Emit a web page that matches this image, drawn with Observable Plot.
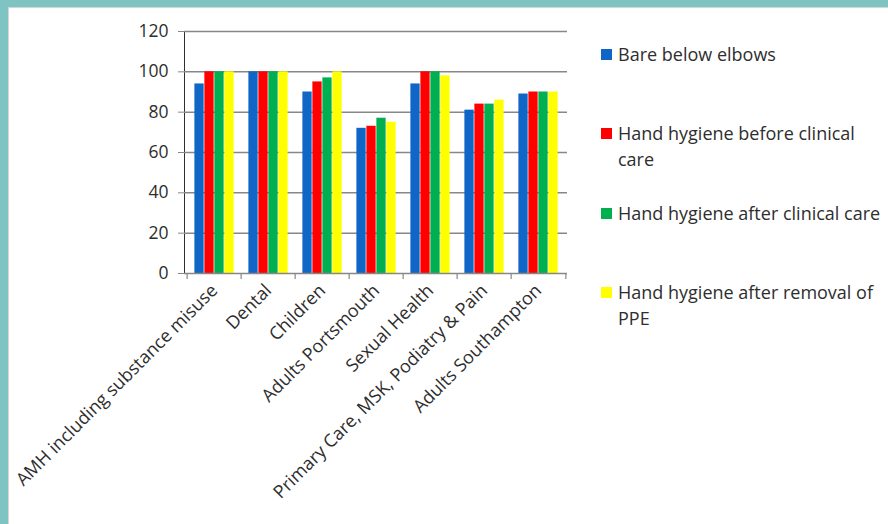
<!DOCTYPE html>
<html>
<head>
<meta charset="utf-8">
<script src="https://cdn.jsdelivr.net/npm/d3@7"></script>
<script src="https://cdn.jsdelivr.net/npm/@observablehq/plot@0.6"></script>
<style>
  html, body { margin: 0; padding: 0; }
  body {
    width: 888px; height: 524px; position: relative; overflow: hidden;
    background: #7fc4c2;
    font-family: "Open Sans", sans-serif; color: #2e2e2e;
  }
  #panel {
    position: absolute; left: 8px; top: 7px; right: 0; bottom: 0;
    background: #fff; box-shadow: inset 1px 1px 1px rgba(0,0,0,0.18);
  }
  #chart { position: absolute; left: 0; top: 0; }
  #legend { position: absolute; left: 0; top: 0; }
  .entry {
    position: absolute; left: 601px; width: 287px;
    display: flex; align-items: flex-start;
    font-size: 18px; line-height: 26px;
  }
  .swatch { width: 11px; height: 11px; flex: none; margin-top: 7.5px; margin-right: 6px; }
  .label { width: 268px; }
</style>
</head>
<body>
<div id="panel"></div>
<div id="chart"></div>
<div id="legend"></div>
<script>
// Audit scores (%) by service line
const categories = [
  "AMH including substance misuse",
  "Dental",
  "Children",
  "Adults Portsmouth",
  "Sexual Health",
  "Primary Care, MSK, Podiatry & Pain",
  "Adults Southampton"
];
const seriesNames = [
  "Bare below elbows",
  "Hand hygiene before clinical care",
  "Hand hygiene after clinical care",
  "Hand hygiene after removal of PPE"
];
const seriesColors = ["#0f66c6", "#ff0000", "#00b050", "#ffff00"];

const bareBelowElbows     = [94, 100, 90, 72, 94, 81, 89];
const handHygieneBefore   = [100, 100, 95, 73, 100, 84, 90];
const handHygieneAfter    = [100, 100, 97, 77, 100, 84, 90];
const handHygieneAfterPPE = [100, 100, 100, 75, 98, 86, 90];

const yTicks = [0, 20, 40, 60, 80, 100, 120];

const seriesValues = [bareBelowElbows, handHygieneBefore, handHygieneAfter, handHygieneAfterPPE];
const rows = seriesValues.flatMap((vals, s) =>
  vals.map((v, c) => ({category: categories[c], series: seriesNames[s], value: v})));

// Frame geometry
const W = 590, H = 524;
const mL = 184, mR = 23, mT = 31, mB = 251;
const step = (W - mL - mR) / categories.length;
const gap = step * 0.135;            // half of the gap between clusters
const barW = step * 0.73 / seriesNames.length;
const axisColor = "#878787";

const barMarks = seriesNames.map((name, i) =>
  Plot.barY(rows.filter(d => d.series === name), {
    x: "category", y: "value",
    fill: seriesColors[i],
    insetLeft: gap + i * barW,
    insetRight: gap + (seriesNames.length - 1 - i) * barW
  }));

const chart = Plot.plot({
  width: W, height: H,
  marginLeft: mL, marginRight: mR, marginTop: mT, marginBottom: mB,
  style: {fontFamily: "Open Sans, sans-serif", fontSize: "17.5px", color: "#2e2e2e", background: "transparent", overflow: "visible"},
  x: {type: "band", domain: categories, padding: 0, tickSize: 0, tickRotate: -45, tickPadding: 14, label: null},
  y: {domain: [0, 120], ticks: yTicks, tickSize: 6, tickPadding: 10, label: null, line: true},
  marks: [
    Plot.ruleY(yTicks.filter(t => t > 0), {y: d => d, stroke: axisColor, strokeWidth: 1.5}),
    ...barMarks,
    Plot.ruleY([0], {stroke: axisColor, strokeWidth: 1.5}),
    Plot.ruleX(categories, {x: d => d, y1: 0, y2: -3, dx: -step / 2, stroke: axisColor, strokeWidth: 1.2}),
    Plot.ruleX(categories.slice(-1), {x: d => d, y1: 0, y2: -3, dx: step / 2, stroke: axisColor, strokeWidth: 1.2})
  ]
});
d3.select(chart).selectAll('[aria-label="y-axis"] line, [aria-label="y-axis tick"] path, [aria-label="y-axis"] path')
  .attr("stroke", axisColor);
d3.select(chart).selectAll('[aria-label="x-axis"] text, [aria-label="x-axis tick label"] text')
  .style("font-size", "18px");
document.getElementById("chart").appendChild(chart);

// Legend
const legendRowY = [54, 133, 213, 292];
const legend = d3.select("#legend");
seriesNames.forEach((name, i) => {
  const e = legend.append("div").attr("class", "entry").style("top", (legendRowY[i] - 13) + "px");
  e.append("div").attr("class", "swatch").style("background", seriesColors[i]);
  e.append("div").attr("class", "label").text(name);
});
</script>
</body>
</html>
